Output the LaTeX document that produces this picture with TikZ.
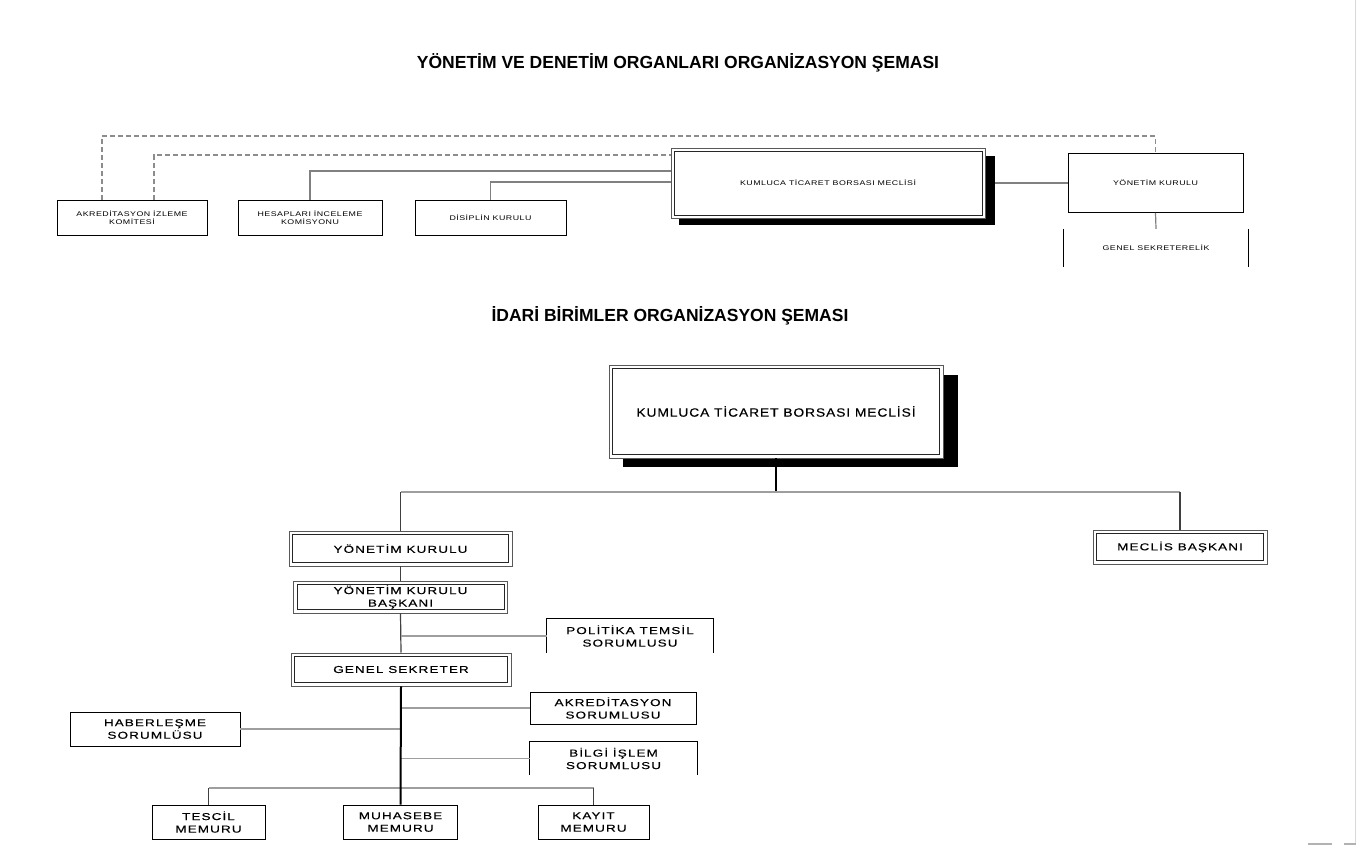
\documentclass[tikz,border=0pt]{standalone}
\usepackage{fontspec}
\setmainfont{Liberation Sans}
\newfontfamily\bfnt[FakeStretch=1.35,LetterSpace=11,FakeBold=0.3]{Liberation Sans}
\newfontfamily\bgfnt[FakeStretch=1.15,LetterSpace=7.6,FakeBold=0.3]{Liberation Sans}
\newfontfamily\tfnt[FakeStretch=1.3,LetterSpace=7]{Liberation Sans}
\newfontfamily\ttlfnt{Liberation Sans}
\begin{document}
\begin{tikzpicture}[x=1pt,y=-1pt,
  tfont/.style={font=\tfnt\fontsize{6.8}{8}\selectfont},
  bfont/.style={font=\bfnt\fontsize{10}{12.5}\selectfont},
  tbox/.style={draw=black, line width=0.9pt, fill=white, align=center, inner sep=0pt, tfont},
  tnone/.style={draw=none, align=center, inner sep=0pt, tfont},
  bbox/.style={draw=black, line width=0.9pt, fill=white, align=center, inner sep=0pt, bfont},
  bnone/.style={draw=none, align=center, inner sep=0pt, bfont},
  dbox/.style={draw=black!65, line width=0.8pt, fill=white, align=center, inner sep=0pt, bfont,
    path picture={\draw[black!85, line width=0.8pt]
      ([shift={(#1,-#1)}]path picture bounding box.north west) rectangle
      ([shift={(-#1,#1)}]path picture bounding box.south east);}},
  dbox/.default=3.5pt,
  tconn/.style={draw=black!50, line width=1.2pt},
  dsh/.style={draw=black!45, line width=1.1pt, dash pattern=on 5pt off 3pt},
  dk/.style={draw=black!75, line width=1.2pt},
  lt/.style={draw=black!38, line width=1.4pt},
  thk/.style={draw=black, line width=2pt},
  titl/.style={font=\ttlfnt\fontsize{17.5}{20}\selectfont\bfseries, inner sep=0pt}
]
\useasboundingbox (0,0) rectangle (1356,845);
\fill[white] (0,0) rectangle (1356,845);

% page artefacts
\draw[black!15, line width=1pt] (1355.5,0) -- (1355.5,845);
\fill[black!30] (1308,843) rectangle (1332,845);
\fill[black!30] (1344,843) rectangle (1356,845);

% titles
\node[titl] (t1) at (678,63) {YÖNETİM VE DENETİM ORGANLARI ORGANİZASYON ŞEMASI};
\node[titl] (t2) at (670,316) {İDARİ BİRİMLER ORGANİZASYON ŞEMASI};

% ---------------- top chart ----------------
\coordinate (o1) at (102,136);
\coordinate (i1) at (154,155);
\coordinate (h1) at (0,171);
\coordinate (d1) at (0,182);
\fill[black] (679,156) rectangle (995,225);
\node[dbox=3pt, tfont, minimum width=314pt, minimum height=70pt] (kmt) at (828,183) {KUMLUCA TİCARET BORSASI MECLİSİ};
\node[tbox, minimum width=150pt, minimum height=35pt] (akr) at (132,217.5) {AKREDİTASYON İZLEME\\KOMİTESİ};
\node[tbox, minimum width=144pt, minimum height=35pt] (hes) at (310,217.5) {HESAPLARI İNCELEME\\KOMİSYONU};
\node[tbox, minimum width=151pt, minimum height=35pt] (dis) at (490.5,217.5) {DİSİPLİN KURULU};
\node[tbox, minimum width=175pt, minimum height=59pt] (yk1) at (1155.5,183) {YÖNETİM KURULU};
\node[tnone, minimum width=184pt, minimum height=38pt] (gsl) at (1156,248) {GENEL SEKRETERELİK};
\draw[black, line width=0.9pt] (gsl.north west) -- (gsl.south west);
\draw[black, line width=0.9pt] (gsl.north east) -- (gsl.south east);

\draw[dsh] (akr.north -| o1) -- (o1) -- (o1 -| yk1.north) -- (yk1.north);
\draw[dsh] (akr.north -| i1) -- (i1) -- (i1 -| kmt.west);
\draw[tconn] (hes.north) |- (h1 -| kmt.west);
\draw[tconn] (dis.north) |- (d1 -| kmt.west);
\draw[tconn] (995,183) -- (yk1.west);
\draw[tconn] (yk1.south) -- (gsl.north);

% ---------------- bottom chart ----------------
\coordinate (b1) at (0,492);
\coordinate (b2) at (0,788);
\fill[black] (623,375) rectangle (958,467);
\node[dbox, font=\bgfnt\fontsize{12}{14}\selectfont, minimum width=334pt, minimum height=93pt] (km2) at (776,411.5) {KUMLUCA TİCARET BORSASI MECLİSİ};
\node[dbox, minimum width=223pt, minimum height=35pt] (yk2) at (400.5,548.5) {YÖNETİM KURULU};
\node[dbox, minimum width=174pt, minimum height=34pt] (mb) at (1180,547) {MECLİS BAŞKANI};
\node[dbox, minimum width=214pt, minimum height=32pt] (ykb) at (400.5,597) {YÖNETİM KURULU\\BAŞKANI};
\node[dbox, minimum width=220pt, minimum height=33pt] (gs) at (401,669.5) {GENEL SEKRETER};
\node[bnone, minimum width=166pt, minimum height=34pt] (pol) at (630,636) {POLİTİKA TEMSİL\\SORUMLUSU};
\draw[black, line width=0.9pt] (pol.south west) -- (pol.north west) -- (pol.north east) -- (pol.south east);
\node[bbox, minimum width=166pt, minimum height=32pt] (akrs) at (613,708) {AKREDİTASYON\\SORUMLUSU};
\node[bnone, minimum width=167pt, minimum height=33pt] (bil) at (613.5,758.5) {BİLGİ İŞLEM\\SORUMLUSU};
\draw[black, line width=0.9pt] (bil.south west) -- (bil.north west) -- (bil.north east) -- (bil.south east);
\node[bbox, minimum width=170pt, minimum height=34pt] (hab) at (155,729) {HABERLEŞME\\SORUMLÜSU};
\node[bbox, minimum width=113pt, minimum height=34pt] (tes) at (208.5,822) {TESCİL\\MEMURU};
\node[bbox, minimum width=114pt, minimum height=34pt] (muh) at (400.5,822) {MUHASEBE\\MEMURU};
\node[bbox, minimum width=111pt, minimum height=34pt] (kay) at (593.5,822) {KAYIT\\MEMURU};

\draw[thk, line width=1.3pt] (km2.south) -- (km2.south |- b1);
\draw[lt] (yk2.north |- b1) -- (mb.north |- b1);
\draw[dk] (yk2.north |- b1) -- (yk2.north);
\draw[dk] (mb.north |- b1) -- (mb.north);
\draw[dk] (yk2.south) -- (ykb.north);
\draw[dk] (ykb.south) -- (gs.north);
\draw[lt] (ykb.south |- pol.west) -- (pol.west);
\draw[lt] (gs.south |- akrs.west) -- (akrs.west);
\draw[lt] (gs.south |- hab.east) -- (hab.east);
\draw[lt] (gs.south |- bil.west) -- (bil.west);
\draw[lt] (tes.north |- b2) -- (kay.north |- b2);
\draw[dk] (tes.north |- b2) -- (tes.north);
\draw[dk] (kay.north |- b2) -- (kay.north);
\draw[thk] (gs.south) -- (muh.north);
\end{tikzpicture}
\end{document}
